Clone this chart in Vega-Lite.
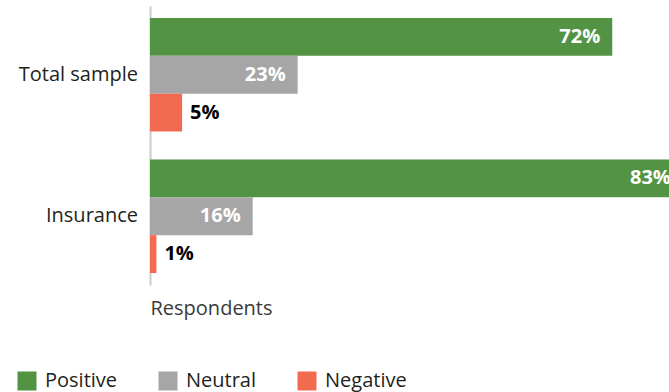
{
  "$schema": "https://vega.github.io/schema/vega-lite/v6.json",
  "autosize": {"type": "none"},
  "padding": {"left": 150, "top": 6, "right": 0, "bottom": 107},
  "width": 519,
  "height": 279,
  "background": "white",
  "config": {
    "font": "Open Sans",
    "view": {"stroke": null}
  },
  "data": {
    "values": [
      {"group": "Total sample", "sentiment": "Positive", "value": 72, "label": "72%"},
      {"group": "Total sample", "sentiment": "Neutral", "value": 23, "label": "23%"},
      {"group": "Total sample", "sentiment": "Negative", "value": 5, "label": "5%"},
      {"group": "Insurance", "sentiment": "Positive", "value": 83, "label": "83%"},
      {"group": "Insurance", "sentiment": "Neutral", "value": 16, "label": "16%"},
      {"group": "Insurance", "sentiment": "Negative", "value": 1, "label": "1%"}
    ]
  },
  "encoding": {
    "y": {
      "field": "group", "type": "nominal", "sort": ["Total sample", "Insurance"],
      "scale": {"paddingInner": 0.198, "paddingOuter": 0.085},
      "axis": {
        "title": null, "ticks": false, "labels": false,
        "domainColor": "#cccccc", "domainWidth": 2, "grid": false
      }
    },
    "x": {
      "field": "value", "type": "quantitative",
      "scale": {"domain": [0, 80.84], "nice": false, "zero": true},
      "axis": {
        "title": "Respondents", "labels": false, "ticks": false, "domain": false, "grid": false,
        "titleAnchor": "start", "titleAlign": "left", "titleBaseline": "top",
        "titlePadding": 13, "titleFontSize": 20, "titleFontWeight": "normal",
        "titleColor": "#3a3a3a", "titleFont": "Open Sans"
      }
    }
  },
  "layer": [
    {
      "mark": {"type": "bar", "clip": true},
      "encoding": {
        "yOffset": {
          "field": "sentiment", "type": "nominal", "sort": ["Positive", "Neutral", "Negative"],
          "scale": {"paddingInner": 0, "paddingOuter": 0}
        },
        "color": {
          "field": "sentiment", "type": "nominal",
          "sort": ["Positive", "Neutral", "Negative"],
          "scale": {"domain": ["Positive", "Neutral", "Negative"], "range": ["#529443", "#a6a6a6", "#f26b50"]},
          "legend": {
            "title": null, "orient": "none", "direction": "horizontal",
            "legendX": -133, "legendY": 365,
            "symbolType": "square", "symbolSize": 361, "symbolStrokeWidth": 0,
            "labelFontSize": 20, "labelColor": "#231f20", "labelOffset": 8,
            "columnPadding": 40, "labelFont": "Open Sans"
          }
        }
      }
    },
    {
      "transform": [{"filter": "datum.sentiment !== 'Negative'"}],
      "mark": {"type": "text", "align": "right", "dx": -12, "fontSize": 20, "fontWeight": "bold", "color": "white", "baseline": "middle"},
      "encoding": {
        "yOffset": {"field": "sentiment", "type": "nominal", "sort": ["Positive", "Neutral", "Negative"]},
        "text": {"field": "label"}
      }
    },
    {
      "transform": [{"filter": "datum.sentiment === 'Negative'"}],
      "mark": {"type": "text", "align": "left", "dx": 8, "fontSize": 20, "fontWeight": "bold", "color": "black", "baseline": "middle"},
      "encoding": {
        "yOffset": {"field": "sentiment", "type": "nominal", "sort": ["Positive", "Neutral", "Negative"]},
        "text": {"field": "label"}
      }
    },
    {
      "transform": [{"filter": "datum.sentiment === 'Positive'"}],
      "mark": {"type": "text", "align": "right", "dx": -12, "fontSize": 20, "color": "#231f20", "baseline": "middle"},
      "encoding": {
        "x": {"datum": 0},
        "text": {"field": "group"}
      }
    }
  ]
}
